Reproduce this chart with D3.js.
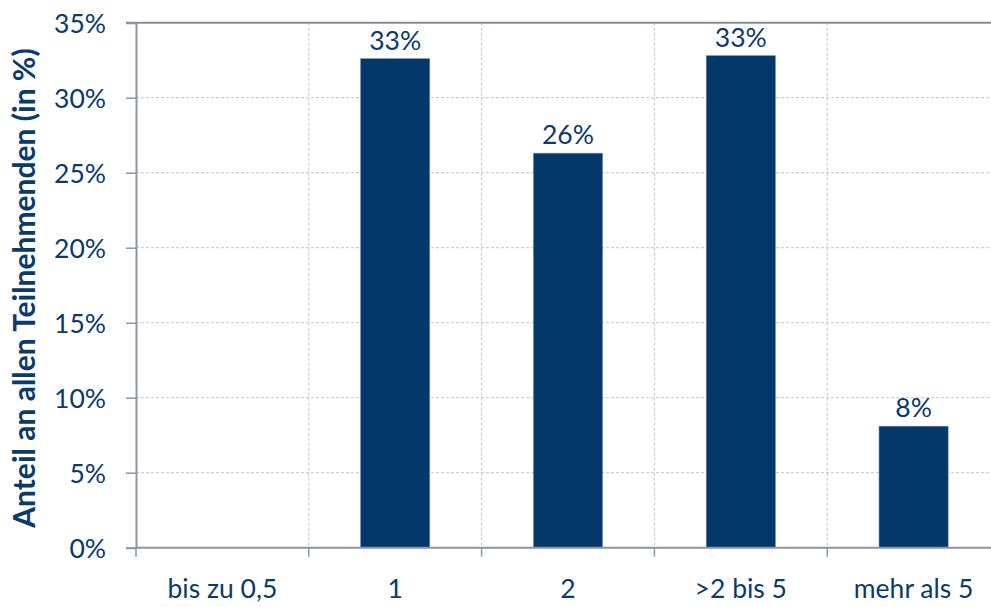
<!DOCTYPE html>
<html>
<head>
<meta charset="utf-8">
<script src="https://cdn.jsdelivr.net/npm/d3@7"></script>
<style>
  html, body { margin: 0; padding: 0; background: #fff; }
  svg text { font-family: Lato, "Open Sans", sans-serif; fill: #0b3a6b; }
</style>
</head>
<body>
<svg id="chart" width="991" height="607"></svg>
<script>
// Dauer-Kategorien und Anteil der Teilnehmenden (in %)
const categories = ["bis zu 0,5", "1", "2", ">2 bis 5", "mehr als 5"];
const shares = [0, 32.6, 26.3, 32.8, 8.1];
const shareLabels = ["", "33%", "26%", "33%", "8%"];
const yTicks = [0, 5, 10, 15, 20, 25, 30, 35];
const yTitle = "Anteil an allen Teilnehmenden (in %)";

const svg = d3.select("#chart");
const m = { left: 136, right: -9, top: 22.7, bottom: 59.3 };
const W = 991, H = 607;
const x0 = m.left, x1 = W - m.right, yTop = m.top, yBot = H - m.bottom;
const fs = 26.5;

const x = d3.scaleBand().domain(categories).range([x0, x1]).paddingInner(0).paddingOuter(0);
const y = d3.scaleLinear().domain([0, 35]).range([yBot, yTop]);
const barW = x.bandwidth() * 0.4;

// horizontal gridlines
svg.append("g").selectAll("line").data(yTicks.filter(t => t > 0 && t < 35)).join("line")
  .attr("x1", x0).attr("x2", x1)
  .attr("y1", d => y(d)).attr("y2", d => y(d))
  .attr("stroke", "#c9c3bc").attr("stroke-width", 1).attr("stroke-dasharray", "3,2");

// vertical gridlines between categories
svg.append("g").selectAll("line").data(categories.slice(1)).join("line")
  .attr("x1", d => x(d)).attr("x2", d => x(d))
  .attr("y1", yTop).attr("y2", yBot)
  .attr("stroke", "#c9c3bc").attr("stroke-width", 1).attr("stroke-dasharray", "3,2");

// top frame line
svg.append("line").attr("x1", x0 - 10).attr("x2", x1).attr("y1", yTop).attr("y2", yTop)
  .attr("stroke", "#858b9b").attr("stroke-width", 2);

// bars
svg.append("g").selectAll("rect").data(categories).join("rect")
  .attr("x", d => x(d) + (x.bandwidth() - barW) / 2)
  .attr("y", (d, i) => y(shares[i]))
  .attr("width", barW)
  .attr("height", (d, i) => yBot - y(shares[i]))
  .attr("fill", "#03386a")
  .attr("stroke", "#6f86a6").attr("stroke-width", 0.6);

// value labels
svg.append("g").selectAll("text").data(categories).join("text")
  .attr("x", d => x(d) + x.bandwidth() / 2)
  .attr("y", (d, i) => y(shares[i]) - 9)
  .attr("text-anchor", "middle")
  .attr("font-size", fs)
  .text((d, i) => shareLabels[i]);

// y axis
const yAxis = d3.axisLeft(y).tickValues(yTicks).tickFormat(d => d + "%").tickSize(10).tickPadding(20);
const gy = svg.append("g").attr("transform", `translate(${x0},0)`).call(yAxis);
gy.select(".domain").attr("stroke", "#8e93a5").attr("stroke-width", 2);
gy.selectAll(".tick line").attr("stroke", "#8e93a5").attr("stroke-width", 1.5);
gy.selectAll(".tick text").attr("font-size", fs).attr("fill", "#0b3a6b")
  .style("font-family", "Lato, 'Open Sans', sans-serif").attr("dy", "0.36em");

// x axis
const gx = svg.append("g").attr("transform", `translate(0,${yBot})`);
gx.append("line").attr("x1", x0).attr("x2", x1).attr("y1", 0).attr("y2", 0)
  .attr("stroke", "#8e93a5").attr("stroke-width", 2);
gx.selectAll("line.tk").data(categories.concat(["end"])).join("line").attr("class", "tk")
  .attr("x1", (d, i) => x0 + i * x.bandwidth()).attr("x2", (d, i) => x0 + i * x.bandwidth())
  .attr("y1", 0).attr("y2", 9)
  .attr("stroke", "#8e93a5").attr("stroke-width", 1.5);
gx.selectAll("text").data(categories).join("text")
  .attr("x", d => x(d) + x.bandwidth() / 2)
  .attr("y", 50)
  .attr("text-anchor", "middle")
  .attr("font-size", fs)
  .text(d => d);

// y axis title
svg.append("text")
  .attr("transform", "translate(35,288) rotate(-90)")
  .attr("text-anchor", "middle")
  .attr("font-size", 30)
  .attr("font-weight", "bold")
  .text(yTitle);
</script>
</body>
</html>
